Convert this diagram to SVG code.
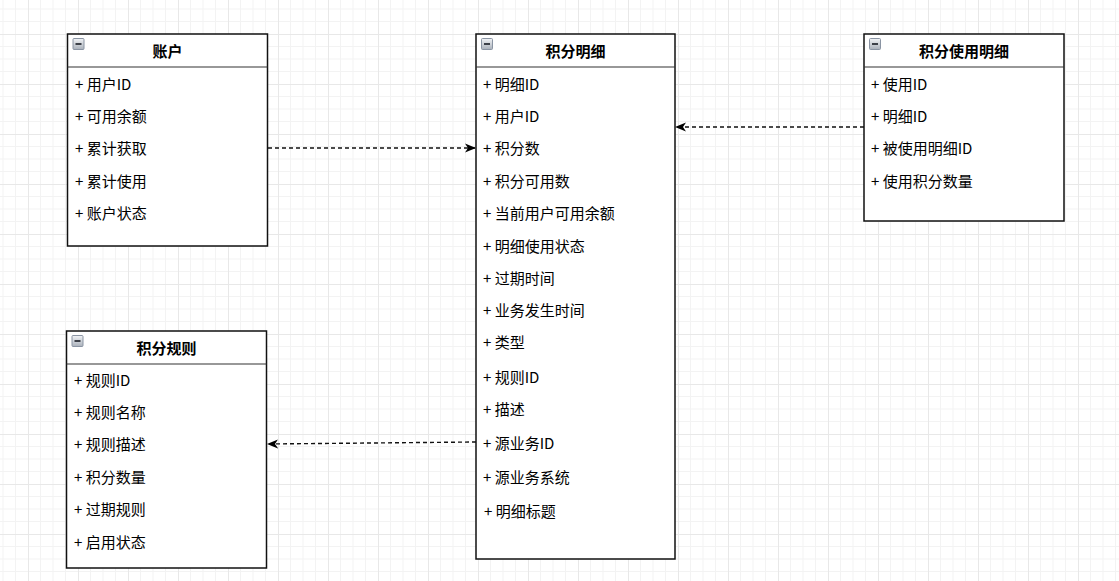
<svg xmlns="http://www.w3.org/2000/svg" width="1119" height="581" viewBox="0 0 1119 581">
  <defs>
    <pattern id="grid" patternUnits="userSpaceOnUse" x="28" y="34" width="50" height="50">
      <path d="M12.5 0V50M25 0V50M37.5 0V50M0 12.5H50M0 25H50M0 37.5H50" stroke="#f3f3f3" stroke-width="1" fill="none"/>
      <path d="M0.5 0V50M0 0.5H50" stroke="#e8e8e8" stroke-width="1" fill="none"/>
    </pattern>
    <linearGradient id="icong" x1="0" y1="0" x2="0" y2="1">
      <stop offset="0" stop-color="#f2f4f7"/>
      <stop offset="1" stop-color="#a9b0ba"/>
    </linearGradient>
    <marker id="arr" markerUnits="userSpaceOnUse" markerWidth="12" markerHeight="10" refX="11" refY="5" orient="auto">
      <path d="M0,0.5 L11,5 L0,9.5 L3,5 Z" fill="#000"/>
    </marker>
    <g id="icon">
      <rect x="0.5" y="0.5" width="11" height="11" rx="1" fill="url(#icong)" stroke="#8a94a3" stroke-width="1"/>
      <rect x="3" y="5" width="6" height="2" fill="#3c4048"/>
    </g>
  </defs>
  <style>
    .box { fill: #ffffff; stroke: #111111; stroke-width: 1.5; }
    .sep { stroke: #333333; stroke-width: 1.2; }
    .title { font-family: "Noto Sans CJK SC", "Microsoft YaHei", sans-serif; font-size: 15px; font-weight: bold; fill: #000; text-anchor: middle; }
    .item { font-family: "Noto Sans CJK SC", "Microsoft YaHei", sans-serif; font-size: 15px; fill: #000; }
    .conn { fill: none; stroke: #111; stroke-width: 1.4; stroke-dasharray: 4 3; }
  </style>
  <rect width="1119" height="581" fill="#ffffff"/>
  <rect width="1119" height="581" fill="url(#grid)"/>

  <g id="connectors">
    <path class="conn" d="M268 148 H476" marker-end="url(#arr)"/>
    <path class="conn" d="M864 127 H675" marker-end="url(#arr)"/>
    <path class="conn" d="M476 442 L267 444" marker-end="url(#arr)"/>
  </g>

  <g id="account">
    <rect class="box" x="67.5" y="34" width="200" height="212"/>
    <line class="sep" x1="67.5" y1="67" x2="267.5" y2="67"/>
    <use href="#icon" x="72.5" y="38"/>
    <text class="title" x="167.5" y="57">账户</text>
    <text class="item" x="75" y="90">+ 用户ID</text>
    <text class="item" x="75" y="122">+ 可用余额</text>
    <text class="item" x="75" y="154">+ 累计获取</text>
    <text class="item" x="75" y="187">+ 累计使用</text>
    <text class="item" x="75" y="219">+ 账户状态</text>
  </g>

  <g id="points-detail">
    <rect class="box" x="476" y="34" width="199" height="525"/>
    <line class="sep" x1="476" y1="67" x2="675" y2="67"/>
    <use href="#icon" x="481" y="38"/>
    <text class="title" x="575.5" y="57">积分明细</text>
    <text class="item" x="483" y="90">+ 明细ID</text>
    <text class="item" x="483" y="122">+ 用户ID</text>
    <text class="item" x="483" y="154">+ 积分数</text>
    <text class="item" x="483" y="187">+ 积分可用数</text>
    <text class="item" x="483" y="219">+ 当前用户可用余额</text>
    <text class="item" x="483" y="252">+ 明细使用状态</text>
    <text class="item" x="483" y="284">+ 过期时间</text>
    <text class="item" x="483" y="316">+ 业务发生时间</text>
    <text class="item" x="483" y="348">+ 类型</text>
    <text class="item" x="483" y="383">+ 规则ID</text>
    <text class="item" x="483" y="415">+ 描述</text>
    <text class="item" x="483" y="449">+ 源业务ID</text>
    <text class="item" x="483" y="483">+ 源业务系统</text>
    <text class="item" x="484" y="517">+ 明细标题</text>
  </g>

  <g id="points-usage">
    <rect class="box" x="864" y="34" width="200" height="187"/>
    <line class="sep" x1="864" y1="67" x2="1064" y2="67"/>
    <use href="#icon" x="869" y="38"/>
    <text class="title" x="964" y="57">积分使用明细</text>
    <text class="item" x="871" y="90">+ 使用ID</text>
    <text class="item" x="871" y="122">+ 明细ID</text>
    <text class="item" x="871" y="154">+ 被使用明细ID</text>
    <text class="item" x="871" y="187">+ 使用积分数量</text>
  </g>

  <g id="points-rule">
    <rect class="box" x="66.5" y="331" width="200" height="237"/>
    <line class="sep" x1="66.5" y1="364" x2="266.5" y2="364"/>
    <use href="#icon" x="71.5" y="335"/>
    <text class="title" x="166.5" y="354">积分规则</text>
    <text class="item" x="74" y="386">+ 规则ID</text>
    <text class="item" x="74" y="418">+ 规则名称</text>
    <text class="item" x="74" y="450">+ 规则描述</text>
    <text class="item" x="74" y="483">+ 积分数量</text>
    <text class="item" x="74" y="515">+ 过期规则</text>
    <text class="item" x="74" y="548">+ 启用状态</text>
  </g>
</svg>
